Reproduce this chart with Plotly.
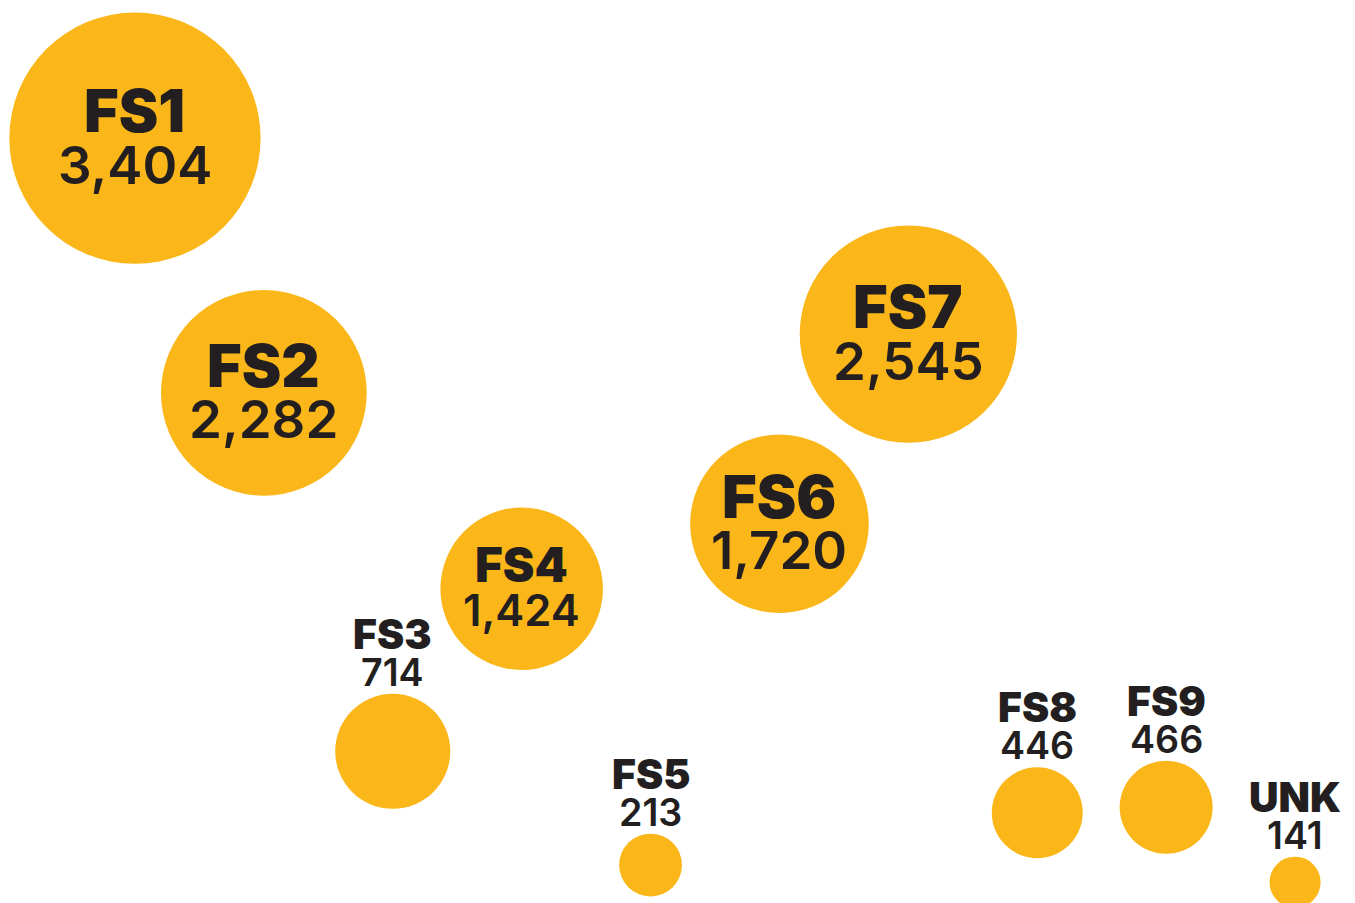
import math
import plotly.graph_objects as go

# ---- data ----
categories = ["FS1", "FS2", "FS3", "FS4", "FS5", "FS6", "FS7", "FS8", "FS9", "UNK"]
counts = [3404, 2282, 714, 1424, 213, 1720, 2545, 446, 466, 141]
level = [84.7, 56.5, 16.8, 34.8, 4.2, 42.0, 63.0, 10.0, 10.6, 2.3]

# ---- style ----
YELLOW = "#FBB719"
INK = "#231F20"
FONT = "Inter"
SIZEREF = 2 / 18.55          # plotly area mode: diameter = sqrt(2 * value / sizeref)
INSIDE_MIN = 1000             # labels go inside bubbles at or above this value
LARGE_MIN = 1600              # full-size inside labels at or above this value
CAP = 0.727 / 0.96            # font size factor (slightly narrowed to match glyph widths)

W, H = 1355, 903

x_idx = list(range(len(categories)))

fig = go.Figure(
    go.Scatter(
        x=x_idx,
        y=level,
        mode="markers",
        marker=dict(size=counts, sizemode="area", sizeref=SIZEREF,
                    color=YELLOW, opacity=1, line=dict(width=0)),
        text=[f"{c}: {v:,}" for c, v in zip(categories, counts)],
        hoverinfo="text",
        showlegend=False,
    )
)

annotations = []
for i, (cat, val, lv) in enumerate(zip(categories, counts, level)):
    r = 0.5 * math.sqrt(2 * val / SIZEREF)
    if val >= INSIDE_MIN:
        if val >= LARGE_MIN:
            hn, hv, gap = 45, 40, 12
        else:
            hn, hv, gap = 36, 33, 12
        total = hn + gap + hv
        name_shift = total / 2 - hn / 2 + 2
        val_shift = -(total / 2 - hv / 2) + 2
    else:
        hn, hv = 31, 28.5
        val_shift = r + 7 + hv / 2
        name_shift = r + 7 + hv + 9 + hn / 2
    annotations.append(dict(
        x=i, y=lv, xref="x", yref="y", text=cat, showarrow=False,
        xanchor="center", yanchor="middle", yshift=name_shift,
        font=dict(family=FONT, size=hn / CAP, color=INK, weight=900),
    ))
    annotations.append(dict(
        x=i, y=lv, xref="x", yref="y", text=f"{val:,}", showarrow=False,
        xanchor="center", yanchor="middle", yshift=val_shift,
        font=dict(family=FONT, size=hv / CAP, color=INK, weight=600),
    ))

fig.update_layout(
    width=W, height=H,
    margin=dict(l=0, r=0, t=0, b=0),
    paper_bgcolor="white", plot_bgcolor="white",
    xaxis=dict(visible=False, range=[-1.047, 9.465], fixedrange=True),
    yaxis=dict(visible=False, range=[0, 100], fixedrange=True),
    annotations=annotations,
    hovermode="closest",
)

fig.write_html(
    "out.html",
    config={"displayModeBar": False},
    post_script="document.body.style.margin='0';document.body.style.overflow='hidden';",
)
